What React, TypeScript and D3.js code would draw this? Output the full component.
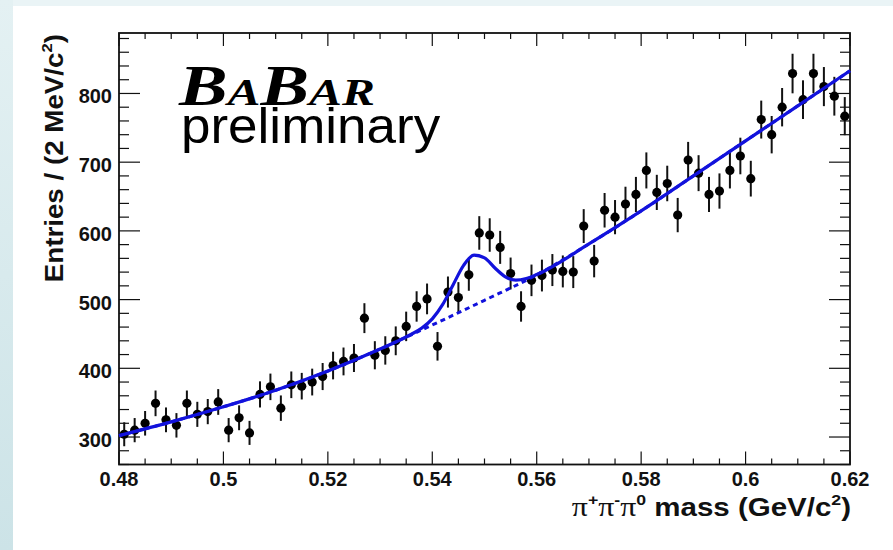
import React from "react";
import * as d3 from "d3";

// ---------- data ----------
const massLow = 0.48;
const binWidth = 0.002;
const counts = [
  304, 310, 320, 349, 325, 317, 349, 333, 337, 351,
  310, 328, 306, 362, 373, 342, 376, 374, 380, 388,
  404, 410, 415, 473, 419, 426, 440, 461, 490, 501,
  432, 511, 503, 536, 597, 594, 576, 538, 490, 528,
  535, 543, 541, 540, 607, 556, 630, 620, 639, 653,
  688, 656, 669, 623, 703, 684, 653, 658, 688, 709,
  676, 762, 740, 780, 829, 791, 829, 810, 796, 767,
];
const bgMass = [0.48, 0.49, 0.5, 0.51, 0.52, 0.53, 0.54, 0.55, 0.56, 0.57, 0.58, 0.59, 0.6, 0.61, 0.62];
const bgValue = [302, 322, 344, 368, 396, 428, 463, 499, 536, 581, 629, 680, 731, 782, 833];
const fitMass = [0.48, 0.49, 0.5, 0.51, 0.52, 0.53, 0.534, 0.536, 0.538, 0.54, 0.542, 0.544, 0.546, 0.548, 0.55, 0.552, 0.554, 0.556, 0.558, 0.56, 0.57, 0.58, 0.59, 0.6, 0.61, 0.62];
const fitValue = [302, 322, 344, 368, 396, 428, 442, 449.6, 458.6, 471.9, 493, 521.7, 549.9, 564.7, 560.8, 546, 533.1, 528.3, 530.6, 536.4, 581, 629, 680, 731, 782, 833];
const xTickValues = [0.48, 0.5, 0.52, 0.54, 0.56, 0.58, 0.6, 0.62];
const xTickLabels = ["0.48", "0.5", "0.52", "0.54", "0.56", "0.58", "0.6", "0.62"];
const yTickValues = [300, 400, 500, 600, 700, 800];
const yTickLabels = ["300", "400", "500", "600", "700", "800"];

const W = 893;
const H = 550;
const L = 119, R = 850, T = 33, B = 464.5;
const BLUE = "#1212dc";

export default function App() {
  const x = d3.scaleLinear().domain([0.48, 0.62]).range([L, R]);
  const y = d3.scaleLinear().domain([260, 888]).range([B, T]);

  const bgLine = d3
    .line<number>()
    .x((_, i) => x(bgMass[i]))
    .y((d) => y(d))
    .curve(d3.curveMonotoneX)(bgValue) as string;
  const fitLine = d3
    .line<number>()
    .x((_, i) => x(fitMass[i]))
    .y((d) => y(d))
    .curve(d3.curveMonotoneX)(fitValue) as string;

  const xMinor = d3.range(0, 29).map((i) => 0.48 + i * 0.005);
  const yMinor = d3.range(0, 32).map((i) => 260 + i * 20);
  const isMajorX = (v: number) => Math.abs(Math.round(v / 0.02) * 0.02 - v) < 1e-6;
  const font = "'Liberation Sans', Arial, Helvetica, sans-serif";
  const serif = "'Liberation Serif', 'DejaVu Serif', serif";

  return (
    <svg
      width={W}
      height={H}
      style={{ position: "fixed", left: 0, top: 0 }}
      xmlns="http://www.w3.org/2000/svg"
    >
      <defs>
        <linearGradient id="side" x1="0" y1="0" x2="0" y2="1">
          <stop offset="0" stopColor="#e4f1f3" />
          <stop offset="1" stopColor="#cce3e7" />
        </linearGradient>
      </defs>
      <rect x={0} y={0} width={W} height={H} fill="#eaf4f6" />
      <rect x={0} y={0} width={13} height={H} fill="url(#side)" />
      <rect x={13} y={6} width={W - 13} height={H - 6} fill="#ffffff" />

      {/* ticks */}
      <g stroke="#111" strokeWidth={1.2}>
        {xMinor.map((v, i) => {
          const major = isMajorX(v);
          const px = x(v);
          return (
            <g key={"xt" + i}>
              <line x1={px} x2={px} y1={B} y2={B - (major ? 13 : 6)} />
              <line x1={px} x2={px} y1={T} y2={T + (major ? 13 : 6)} />
            </g>
          );
        })}
        {yMinor.map((v, i) => {
          const major = v % 100 === 0;
          const py = y(v);
          return (
            <g key={"yt" + i}>
              <line x1={L} x2={L + (major ? 21 : 10)} y1={py} y2={py} />
              <line x1={R} x2={R - (major ? 21 : 10)} y1={py} y2={py} />
            </g>
          );
        })}
      </g>
      <rect x={L} y={T} width={R - L} height={B - T} fill="none" stroke="#111" strokeWidth={1.8} />

      {/* tick labels */}
      <g fontFamily={font} fontWeight="bold" fontSize={20} fill="#111">
        {xTickValues.map((v, i) => (
          <text key={"xl" + i} x={x(v)} y={486} textAnchor="middle">
            {xTickLabels[i]}
          </text>
        ))}
        {yTickValues.map((v, i) => (
          <text key={"yl" + i} x={112} y={y(v) + 10} textAnchor="end">
            {yTickLabels[i]}
          </text>
        ))}
      </g>

      {/* axis titles */}
      <text
        transform="translate(851,516) scale(1.18,1)"
        textAnchor="end"
        fontFamily={font}
        fontWeight="bold"
        fontSize={25}
        fill="#111"
      >
        <tspan fontFamily={serif} fontWeight="normal" fontSize={27}>π</tspan>
        <tspan fontSize={15} dy={-11}>+</tspan>
        <tspan fontFamily={serif} fontWeight="normal" fontSize={27} dy={11}>π</tspan>
        <tspan fontSize={15} dy={-11}>-</tspan>
        <tspan fontFamily={serif} fontWeight="normal" fontSize={27} dy={11}>π</tspan>
        <tspan fontSize={15} dy={-11}>0</tspan>
        <tspan dy={11}> mass (GeV/c</tspan>
        <tspan fontSize={15} dy={-11}>2</tspan>
        <tspan dy={11}>)</tspan>
      </text>
      <text
        transform="translate(63,34) rotate(-90) scale(1.11,1)"
        textAnchor="end"
        fontFamily={font}
        fontWeight="bold"
        fontSize={25}
        fill="#111"
      >
        <tspan>Entries / (2 MeV/c</tspan>
        <tspan fontSize={15} dy={-11}>2</tspan>
        <tspan dy={11}>)</tspan>
      </text>

      {/* BaBar logo */}
      <text
        transform="translate(179,105) scale(1.3,1)"
        fontFamily={serif}
        fontWeight="bold"
        fontStyle="italic"
        fill="#000"
      >
        <tspan fontSize={56}>B</tspan>
        <tspan fontSize={38}>A</tspan>
        <tspan fontSize={56}>B</tspan>
        <tspan fontSize={38}>AR</tspan>
      </text>
      <text
        transform="translate(181,143) scale(1.06,1)"
        fontFamily={font}
        fontSize={50}
        fill="#000"
      >
        preliminary
      </text>

      {/* data points */}
      <g>
        {counts.map((c, i) => {
          const cx = x(massLow + binWidth * (i + 0.5));
          const err = Math.sqrt(c);
          return (
            <g key={"p" + i}>
              <line x1={cx} x2={cx} y1={y(c - err)} y2={y(c + err)} stroke="#111" strokeWidth={2} />
              <circle cx={cx} cy={y(c)} r={4.6} fill="#000" />
            </g>
          );
        })}
      </g>

      {/* fit curves */}
      <path d={bgLine} fill="none" stroke={BLUE} strokeWidth={3} strokeDasharray="5,4" />
      <path d={fitLine} fill="none" stroke={BLUE} strokeWidth={3.2} />
    </svg>
  );
}
